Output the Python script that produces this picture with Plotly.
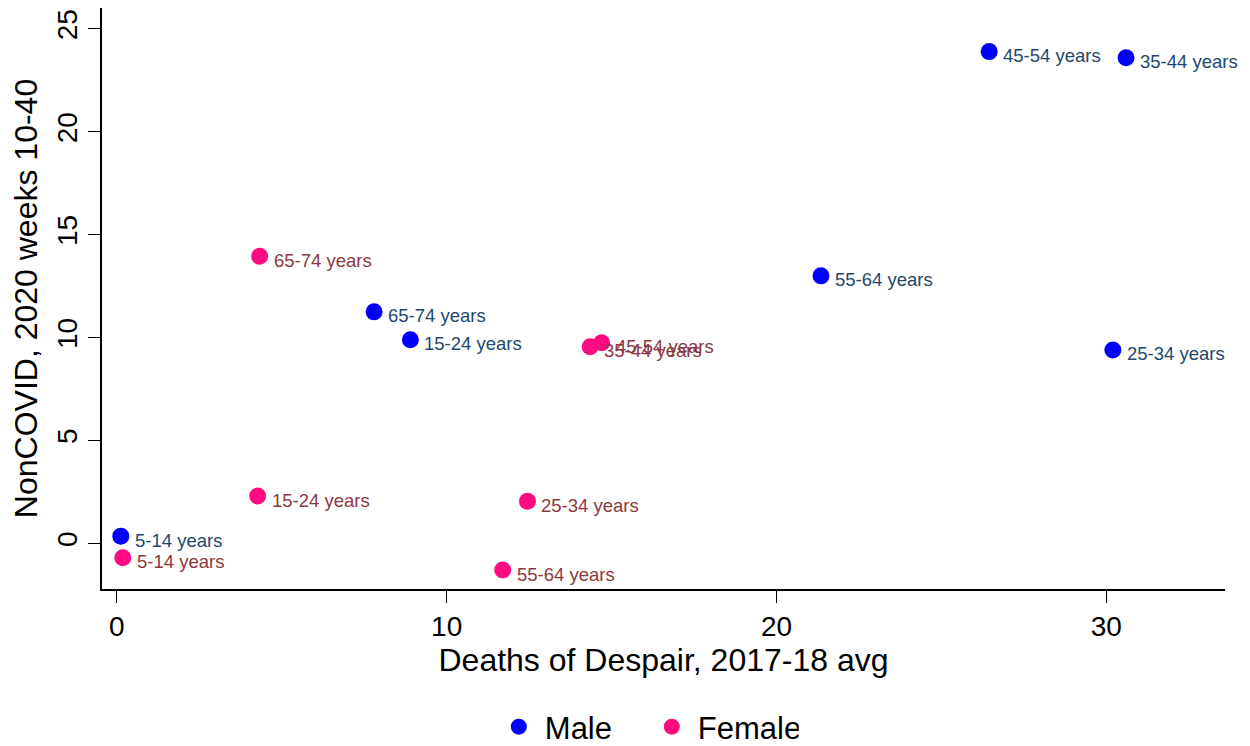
import plotly.graph_objects as go

age_groups = ["5-14 years", "15-24 years", "25-34 years", "35-44 years",
              "45-54 years", "55-64 years", "65-74 years"]
male_x = [0.12, 8.9, 30.2, 30.6, 26.45, 21.35, 7.8]
male_y = [0.35, 9.9, 9.4, 23.6, 23.9, 13.0, 11.25]
female_x = [0.18, 4.27, 12.45, 14.35, 14.7, 11.7, 4.33]
female_y = [-0.7, 2.3, 2.05, 9.55, 9.75, -1.3, 13.95]

x_ticks = [0, 10, 20, 30]
y_ticks = [0, 5, 10, 15, 20, 25]

FONT = "Liberation Sans, Arial, Helvetica, sans-serif"
MALE_MARK, MALE_TEXT = "#0000ff", "#24476d"
FEM_MARK, FEM_TEXT = "#fc0c80", "#8e383e"

fig = go.Figure()
fig.add_trace(go.Scatter(
    x=male_x, y=male_y, name="Male", mode="markers",
    marker=dict(color=MALE_MARK, size=17),
))
fig.add_trace(go.Scatter(
    x=female_x, y=female_y, name="Female", mode="markers",
    marker=dict(color=FEM_MARK, size=17),
))

for xs, ys, col in [(male_x, male_y, MALE_TEXT), (female_x, female_y, FEM_TEXT)]:
    for xv, yv, lab in zip(xs, ys, age_groups):
        fig.add_annotation(
            x=xv, y=yv, xref="x", yref="y", text=lab, showarrow=False,
            xanchor="left", yanchor="middle", xshift=12, yshift=-4,
            font=dict(color=col, size=18.5, family=FONT),
        )

fig.update_layout(
    width=1250, height=746,
    margin=dict(l=94, r=33, t=0, b=162),
    paper_bgcolor="white", plot_bgcolor="white",
    font=dict(family=FONT, color="black"),
    showlegend=True,
    legend=dict(orientation="h", x=0.348, xanchor="left", y=-0.238, yanchor="middle",
                font=dict(size=31), itemsizing="trace", itemwidth=42, entrywidth=96),
)
fig.update_xaxes(
    range=[-0.45, 33.6], tickvals=x_ticks, showgrid=False, zeroline=False,
    showline=True, linecolor="black", linewidth=1.5,
    ticks="outside", ticklen=12, tickcolor="black",
    tickfont=dict(size=28),
    title=dict(text="Deaths of Despair, 2017-18 avg", font=dict(size=32), standoff=6),
)
fig.update_yaxes(
    range=[-2.22, 26.02], tickvals=y_ticks, showgrid=False, zeroline=False,
    showline=True, linecolor="black", linewidth=1.5,
    ticks="outside", ticklen=12, tickcolor="black",
    tickangle=-90, tickfont=dict(size=28),
    title=dict(text="NonCOVID, 2020 weeks 10-40", font=dict(size=32), standoff=6),
)

fig.write_html("out.html")
